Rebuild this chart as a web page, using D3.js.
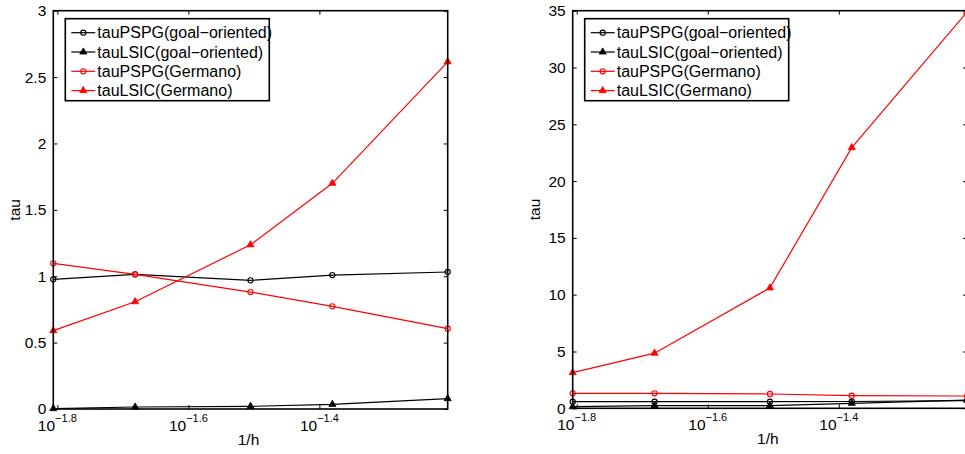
<!DOCTYPE html>
<html>
<head>
<meta charset="utf-8">
<script src="https://cdn.jsdelivr.net/npm/d3@7"></script>
<style>
  body { margin: 0; background: #fff; }
  text { font-family: "Liberation Sans", Arial, Helvetica, sans-serif; }
</style>
</head>
<body>
<div class="d3-container"></div>
<script>
// 1/h values (h = 1/64, 1/48, 1/32, 1/24, 1/16)
const invH = [1/64, 1/48, 1/32, 1/24, 1/16];
const xTickExps = [-1.8, -1.6, -1.4];

const seriesNames = ["tauPSPG(goal\u2212oriented)", "tauLSIC(goal\u2212oriented)",
                     "tauPSPG(Germano)", "tauLSIC(Germano)"];
const seriesColors = ["black", "black", "red", "red"];
const seriesMarkers = ["circle", "triangle", "circle", "triangle"];

// left plot
const leftPspgGoal = [0.977, 1.014, 0.969, 1.009, 1.032];
const leftLsicGoal = [0.003, 0.015, 0.02, 0.035, 0.078];
const leftPspgGerm = [1.097, 1.014, 0.881, 0.773, 0.605];
const leftLsicGerm = [0.59, 0.808, 1.237, 1.70, 2.615];
const leftYTicks = [0, 0.5, 1, 1.5, 2, 2.5, 3];

// right plot
const rightPspgGoal = [0.58, 0.58, 0.58, 0.6, 0.68];
const rightLsicGoal = [0.14, 0.23, 0.23, 0.44, 0.72];
const rightPspgGerm = [1.32, 1.32, 1.26, 1.11, 1.08];
const rightLsicGerm = [3.14, 4.85, 10.6, 22.95, 34.9];
const rightYTicks = [0, 5, 10, 15, 20, 25, 30, 35];

const width = 965;
const height = 454;

const svg = d3.select(".d3-container")
  .append("svg")
  .attr("width", width)
  .attr("height", height)
  .attr("viewBox", [0, 0, width, height]);

function drawPanel(opts) {
  const {left, right, top, bottom, yMax, yTicks, series} = opts;

  const x = d3.scaleLog()
    .domain([invH[0], invH[invH.length - 1]])
    .range([left, right]);

  const y = d3.scaleLinear()
    .domain([0, yMax])
    .range([bottom, top]);

  const g = svg.append("g");

  const xTickVals = xTickExps.map(e => Math.pow(10, e));

  // ticks, all four sides, pointing in
  g.append("g")
    .attr("transform", `translate(0,${bottom})`)
    .call(d3.axisBottom(x).tickValues(xTickVals).tickSize(-4).tickFormat(""))
    .call(a => a.select(".domain").remove());
  g.append("g")
    .attr("transform", `translate(0,${top})`)
    .call(d3.axisTop(x).tickValues(xTickVals).tickSize(-4).tickFormat(""))
    .call(a => a.select(".domain").remove());
  g.append("g")
    .attr("transform", `translate(${left},0)`)
    .call(d3.axisLeft(y).tickValues(yTicks).tickSize(-4).tickPadding(7).tickFormat(d3.format("")))
    .call(a => a.select(".domain").remove())
    .call(a => a.selectAll("text").attr("font-size", 15.5).attr("fill", "black")
      .attr("font-family", "Liberation Sans, Arial, sans-serif"));
  g.append("g")
    .attr("transform", `translate(${right},0)`)
    .call(d3.axisRight(y).tickValues(yTicks).tickSize(-4).tickFormat(""))
    .call(a => a.select(".domain").remove());
  g.selectAll(".tick line").attr("stroke", "black").attr("stroke-width", 1);

  // x tick labels 10^e
  const lab = g.append("g").selectAll("text")
    .data(xTickExps)
    .join("text")
    .attr("x", d => x(Math.pow(10, d)))
    .attr("y", bottom + 22)
    .attr("text-anchor", "middle")
    .attr("font-size", 15.5)
    .attr("fill", "black");
  lab.append("tspan").text("10");
  lab.append("tspan").attr("dy", -9).attr("font-size", 11).text(d => "\u2212" + (-d).toFixed(1));

  g.append("text")
    .attr("x", (left + right) / 2 - 2)
    .attr("y", bottom + 36)
    .attr("text-anchor", "middle")
    .attr("font-size", 15.5)
    .text("1/h");

  g.append("text")
    .attr("transform", `translate(${left - 33},${(top + bottom) / 2}) rotate(-90)`)
    .attr("text-anchor", "middle")
    .attr("font-size", 15.5)
    .text("tau");

  // data
  const line = d3.line().x((d, i) => x(invH[i])).y(d => y(d));
  series.forEach((vals, k) => {
    g.append("path")
      .datum(vals)
      .attr("fill", "none")
      .attr("stroke", seriesColors[k])
      .attr("stroke-width", 1.2)
      .attr("d", line);
    drawMarkers(g, vals.map((v, i) => [x(invH[i]), y(v)]), k);
  });

  // box
  g.append("rect")
    .attr("x", left).attr("y", top)
    .attr("width", right - left).attr("height", bottom - top)
    .attr("fill", "none").attr("stroke", "black").attr("stroke-width", 1.6);

  // legend
  const lx = left + 12, ly = top + 8;
  const lg = g.append("g");
  lg.append("rect")
    .attr("x", lx).attr("y", ly)
    .attr("width", 204).attr("height", 82)
    .attr("fill", "white").attr("stroke", "black").attr("stroke-width", 1.6);
  seriesNames.forEach((name, k) => {
    const yy = ly + 14 + k * 19.3;
    lg.append("line")
      .attr("x1", lx + 6).attr("x2", lx + 30)
      .attr("y1", yy).attr("y2", yy)
      .attr("stroke", seriesColors[k]).attr("stroke-width", 1.2);
    drawMarkers(lg, [[lx + 18, yy]], k);
    lg.append("text")
      .attr("x", lx + 32).attr("y", yy + 5.5)
      .attr("font-size", 16)
      .text(name);
  });
}

function drawMarkers(g, pts, k) {
  if (seriesMarkers[k] === "circle") {
    g.append("g").selectAll("circle")
      .data(pts).join("circle")
      .attr("cx", d => d[0]).attr("cy", d => d[1]).attr("r", 2.6)
      .attr("fill", "none").attr("stroke", seriesColors[k]).attr("stroke-width", 1.1);
  } else {
    const tri = d3.symbol().type(d3.symbolTriangle).size(22);
    g.append("g").selectAll("path")
      .data(pts).join("path")
      .attr("transform", d => `translate(${d[0]},${d[1]})`)
      .attr("d", tri)
      .attr("fill", seriesColors[k]).attr("stroke", seriesColors[k]).attr("stroke-width", 0.8);
  }
}

drawPanel({left: 53.3, right: 447.7, top: 10.7, bottom: 409, yMax: 3, yTicks: leftYTicks,
  series: [leftPspgGoal, leftLsicGoal, leftPspgGerm, leftLsicGerm]});
drawPanel({left: 572.7, right: 967.1, top: 10.7, bottom: 408.3, yMax: 35, yTicks: rightYTicks,
  series: [rightPspgGoal, rightLsicGoal, rightPspgGerm, rightLsicGerm]});
</script>
</body>
</html>
